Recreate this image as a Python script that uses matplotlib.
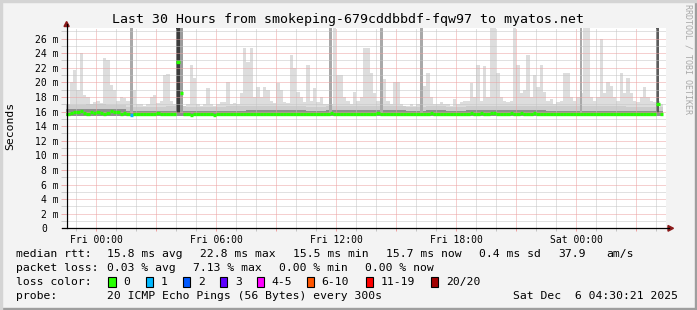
import numpy as np
import matplotlib
matplotlib.use("Agg")
import matplotlib.pyplot as plt
from matplotlib.lines import Line2D
from matplotlib.patches import Polygon, Rectangle
from matplotlib.ticker import MultipleLocator
from matplotlib.transforms import ScaledTranslation

plt.rcParams["font.family"] = ["DejaVu Sans Mono"]

# --- data: 10-minute steps from Thu 22:30:21, values in ms ---
median_ms = [
    15.7, 15.8, 16.0, 15.9, 16.1, 15.8,
    15.7, 15.9, 15.8, 16.0, 15.8, 15.7,
    15.8, 16.1, 15.9, 16.0, 15.7, 15.8,
    15.6, 15.5, 15.7, 15.6, 15.7, 15.6,
    15.7, 15.6, 15.7, 15.8, 15.6, 15.7,
    15.7, 15.6, 15.7, 22.8, 18.5, 15.6,
    15.6, 15.5, 15.6, 15.7, 15.6, 15.6,
    15.7, 15.6, 15.5, 15.6, 15.7, 15.6,
    15.6, 15.7, 15.6, 15.6, 15.7, 15.6,
    15.7, 15.6, 15.7, 15.6, 15.6, 15.7,
    15.6, 15.7, 15.6, 15.6, 15.7, 15.6,
    15.6, 15.7, 15.6, 15.7, 15.6, 15.6,
    15.6, 15.7, 15.6, 15.6, 15.7, 15.6,
    15.7, 15.8, 15.7, 15.6, 15.6, 15.7,
    15.6, 15.7, 15.6, 15.7, 15.6, 15.7,
    15.7, 15.6, 15.7, 15.8, 15.7, 15.6,
    15.6, 15.7, 15.6, 15.6, 15.7, 15.6,
    15.7, 15.6, 15.7, 15.7, 15.6, 15.7,
    15.7, 15.8, 15.7, 15.6, 15.7, 15.7,
    15.6, 15.7, 15.7, 15.6, 15.7, 15.6,
    15.7, 15.8, 15.7, 15.7, 15.8, 15.7,
    15.7, 15.8, 15.8, 15.7, 15.7, 15.6,
    15.7, 15.8, 15.7, 15.7, 15.8, 15.7,
    15.7, 15.7, 15.8, 15.7, 15.6, 15.7,
    15.6, 15.7, 15.7, 15.6, 15.7, 15.6,
    15.7, 15.6, 15.7, 15.7, 15.6, 15.7,
    15.7, 15.6, 15.7, 15.6, 15.7, 15.6,
    15.6, 15.7, 15.6, 15.7, 15.7, 15.6,
    15.7, 15.6, 15.7, 15.6, 15.7, 15.6,
    15.6, 15.7, 15.6, 17.1, 15.7,
]

smoke_max_ms = [
    17.0, 20.1, 21.7, 19.0, 24.0, 18.3,
    18.0, 17.0, 17.3, 17.5, 17.2, 23.3,
    23.0, 19.6, 19.0, 17.5, 18.0, 17.8,
    17.5, 17.0, 19.0, 17.0, 17.0, 16.8,
    17.0, 18.0, 18.3, 17.2, 17.5, 21.0,
    21.2, 17.5, 17.0, 17.0, 17.0, 16.8,
    17.0, 22.4, 20.6, 17.0, 16.8, 17.0,
    19.2, 17.0, 16.8, 17.0, 17.3, 17.3,
    20.1, 17.0, 17.2, 17.0, 18.5, 24.7,
    22.8, 24.7, 18.0, 19.4, 18.0, 19.4,
    19.0, 17.5, 17.2, 19.9, 19.0, 17.3,
    17.2, 23.8, 22.0, 18.7, 18.0, 17.3,
    22.4, 17.5, 19.2, 17.3, 18.0, 17.0,
    17.0, 17.0, 30.0, 21.0, 21.0, 18.0,
    17.5, 17.0, 18.7, 17.5, 18.0, 24.7,
    24.7, 21.3, 18.5, 17.5, 18.0, 20.4,
    17.5, 17.0, 20.0, 20.1, 17.0, 16.8,
    16.8, 17.0, 16.8, 17.0, 17.5, 19.5,
    21.3, 18.0, 17.0, 17.0, 17.3, 17.0,
    17.0, 16.8, 17.7, 17.0, 17.3, 17.5,
    17.5, 19.9, 18.0, 22.4, 17.5, 22.2,
    18.0, 30.0, 30.0, 21.3, 18.0, 17.5,
    17.3, 17.5, 30.0, 22.4, 18.5, 19.0,
    23.8, 18.0, 21.0, 19.4, 22.4, 18.7,
    17.5, 17.7, 17.0, 17.3, 17.5, 21.3,
    21.3, 18.0, 17.5, 18.0, 18.5, 30.0,
    30.0, 18.0, 17.5, 18.0, 26.0, 18.5,
    20.0, 19.5, 18.0, 17.5, 21.3, 18.5,
    20.6, 18.5, 17.5, 17.3, 18.0, 19.4,
    18.0, 17.5, 17.3, 17.5, 17.0,
]

# hourly smoke bands (ms)
smoke_low_ms = [15.45, 15.45, 15.45, 15.4, 15.4, 15.4, 15.4, 15.4, 15.4, 15.4,
                15.4, 15.4, 15.4, 15.4, 15.4, 15.4, 15.4, 15.4, 15.4, 15.4,
                15.45, 15.45, 15.45, 15.4, 15.4, 15.4, 15.4, 15.4, 15.4, 15.4]
smoke_mid_ms = [16.9, 17.0, 16.9, 16.6, 16.6, 16.7, 16.6, 16.6, 16.7, 16.7,
                16.7, 16.7, 16.6, 16.7, 16.7, 16.8, 16.7, 16.6, 16.7, 16.6,
                16.7, 16.8, 16.8, 16.8, 16.7, 16.7, 16.7, 16.7, 16.6, 16.6]
smoke_dense_ms = [16.3, 16.4, 16.3, 16.1, 16.1, 16.1, 16.1, 16.1, 16.1, 16.2,
                  16.2, 16.2, 16.1, 16.2, 16.2, 16.2, 16.2, 16.1, 16.2, 16.1,
                  16.2, 16.2, 16.2, 16.2, 16.1, 16.1, 16.1, 16.1, 16.1, 16.1]

# bins with packet loss (index, lost pings)
loss_bins = [19]
loss_counts = [1]

# periods where smoke goes off the top of the graph (hours from start)
column_start_h = [3.2, 5.47, 5.67, 13.12, 15.67, 17.67, 25.67, 29.47]
column_width_h = [0.13, 0.2, 0.16, 0.16, 0.16, 0.16, 0.13, 0.16]
column_shade = ["#a9a9a9", "#3c3c3c", "#9c9c9c", "#a9a9a9", "#a9a9a9",
                "#a9a9a9", "#a9a9a9", "#5c5c5c"]

loss_labels = ["0", "1", "2", "3", "4-5", "6-10", "11-19", "20/20"]
loss_colors = ["#26ff00", "#00b8ff", "#0059ff", "#5e00ff", "#ff00ff",
               "#ff5500", "#ff0000", "#a10000"]

tick_hours_from_midnight = [0, 6, 12, 18, 24]
tick_labels = ["Fri 00:00", "Fri 06:00", "Fri 12:00", "Fri 18:00", "Sat 00:00"]
start_hour = 22 + 30 / 60 + 21 / 3600      # Thu 22:30:21

W, H = 697, 310


def fx(x):
    return x / W


def fy(y):
    return 1 - y / H


fig = plt.figure(figsize=(W / 100, H / 100), dpi=100)
fig.patch.set_facecolor("#f3f3f3")
ax = fig.add_axes([fx(66.3), fy(228.3), 600 / W, 200.3 / H])
ax.set_facecolor("white")

step = 1 / 6
median = np.array(median_ms)
t = np.arange(len(median)) * step
t_end = len(median) * step
th = np.arange(len(smoke_mid_ms), dtype=float)
wh = np.minimum(1.0, t_end - th)
low = np.array(smoke_low_ms)

# light smoke (outer pings)
ax.bar(t, np.array(smoke_max_ms) - (median - 0.1), bottom=median - 0.1,
       width=step, align="edge", color="#dddddd", linewidth=0, zorder=1)
ax.bar(th, np.array(smoke_mid_ms) - low, bottom=low, width=wh, align="edge",
       color="#cdcdcd", linewidth=0, zorder=1.1)
ax.bar(th, np.array(smoke_dense_ms) - low, bottom=low, width=wh, align="edge",
       color="#8e8e8e", linewidth=0, zorder=1.2)
ax.bar(column_start_h, 40, bottom=15.8, width=column_width_h, align="edge",
       color=column_shade, linewidth=0, zorder=1.3)

# median coloured by loss
loss = np.zeros(len(median), dtype=int)
for i, c in zip(loss_bins, loss_counts):
    loss[i] = c


def loss_index(c):
    if c <= 3:
        return c
    if c <= 5:
        return 4
    if c <= 10:
        return 5
    if c <= 19:
        return 6
    return 7


cols = [loss_colors[loss_index(c)] for c in loss]
lc = ax.hlines(median, t, t + step, colors=cols, linewidth=2.4, zorder=3)
lc.set_capstyle("butt")

ax.set_xlim(0, 30)
ax.set_ylim(0, 27.45)

# grid
first_midnight = 24 - start_hour
major_x = [first_midnight + 3 * k for k in range(10) if first_midnight + 3 * k < 30]
lab_pos = [first_midnight + h for h in tick_hours_from_midnight]
xlabels = []
for p in major_x:
    xlabels.append(tick_labels[lab_pos.index(p)] if p in lab_pos else "")
ax.set_xticks(major_x, xlabels)
minor_x = [first_midnight - 1 + k for k in range(31) if 0 < first_midnight - 1 + k < 30]
ax.set_xticks(minor_x, minor=True)

yt = np.arange(0, 27, 2)
ax.set_yticks(yt, ["0"] + [f"{v} m" for v in yt[1:]])
ax.yaxis.set_minor_locator(MultipleLocator(1))

ax.grid(which="minor", color="#c4c4c4", linestyle=(0, (1, 1)), linewidth=0.72, zorder=2.5)
ax.grid(which="major", color="#eca0a0", linestyle=(0, (1, 1)), linewidth=0.72, zorder=2.6)
ax.set_axisbelow(False)

ax.tick_params(axis="y", which="both", length=3.5, width=0.6, pad=2, labelsize=7)
ax.tick_params(axis="y", which="major", color="#eea2a2")
ax.tick_params(axis="y", which="minor", color="#c4c4c4")
ax.tick_params(axis="x", which="both", length=2, width=0.72, pad=2.5, labelsize=7)
ax.tick_params(axis="x", which="major", color="#eea2a2")
ax.tick_params(axis="x", which="minor", color="#c4c4c4")

lbl0 = ax.yaxis.get_major_ticks()[0].label1
lbl0.set_transform(lbl0.get_transform() + ScaledTranslation(-11.6 / 100, 0, fig.dpi_scale_trans))

for s in ax.spines.values():
    s.set_visible(False)

# axis lines with arrows
fig.add_artist(Line2D([fx(66.5), fx(66.5)], [fy(228.3), fy(24)], color="black", lw=0.9))
fig.add_artist(Line2D([fx(62), fx(669)], [fy(228.3), fy(228.3)], color="black", lw=0.9))
fig.add_artist(Polygon([(fx(64), fy(26.5)), (fx(69.2), fy(26.5)), (fx(66.6), fy(21.5))],
                       closed=True, color="#8b1a1a", transform=fig.transFigure))
fig.add_artist(Polygon([(fx(668), fy(225.5)), (fx(668), fy(231.2)), (fx(673.5), fy(228.3))],
                       closed=True, color="#8b1a1a", transform=fig.transFigure))

# frame shading
fig.add_artist(Rectangle((0, 0), 1, 2 / H, color="#9e9e9e", transform=fig.transFigure))
fig.add_artist(Rectangle((1 - 2 / W, 0), 2 / W, 1, color="#9e9e9e", transform=fig.transFigure))
fig.add_artist(Rectangle((0, 1 - 2 / H), 1, 2 / H, color="#d4d4d4", transform=fig.transFigure))
fig.add_artist(Rectangle((0, 0), 2 / W, 1, color="#d4d4d4", transform=fig.transFigure))

fig.text(fx(348), fy(19), "Last 30 Hours from smokeping-679cddbbdf-fqw97 to myatos.net",
         ha="center", va="center", fontsize=9.5)
fig.text(fx(10), fy(126), "Seconds", rotation=90, ha="center", va="center", fontsize=8.2)
fig.text(fx(688), fy(59), "RRDTOOL / TOBI OETIKER", rotation=270, ha="center",
         va="center", fontsize=6, color="#a8a8a8")

fs = 8.2
rows = [
    (254.3, [(16, "median rtt:"), (107.3, "15.8 ms avg"), (200, "22.8 ms max"),
             (293.3, "15.5 ms min"), (386, "15.7 ms now"), (479.3, "0.4 ms sd"),
             (558.3, "37.9"), (606.7, "am/s")]),
    (268.3, [(16, "packet loss:"), (107.3, "0.03 % avg"), (193.3, "7.13 % max"),
             (278.7, "0.00 % min"), (365, "0.00 % now")]),
    (282, [(16, "loss color:")]),
    (296, [(16, "probe:"), (107.3, "20 ICMP Echo Pings (56 Bytes) every 300s"),
           (513.3, "Sat Dec  6 04:30:21 2025")]),
]
for y, items in rows:
    for x, s in items:
        fig.text(fx(x), fy(y), s, ha="left", va="center", fontsize=fs)

box_x = [108.3, 145.7, 182.7, 220, 256.7, 306.7, 365.7, 430.7]
for bx, lab, col in zip(box_x, loss_labels, loss_colors):
    fig.add_artist(Rectangle((fx(bx), fy(287)), 7.5 / W, 10 / H, facecolor=col,
                             edgecolor="black", lw=0.8, transform=fig.transFigure))
    fig.text(fx(bx + 15), fy(282), lab, ha="left", va="center", fontsize=fs)

fig.savefig("out.png", dpi=100, facecolor=fig.get_facecolor())
